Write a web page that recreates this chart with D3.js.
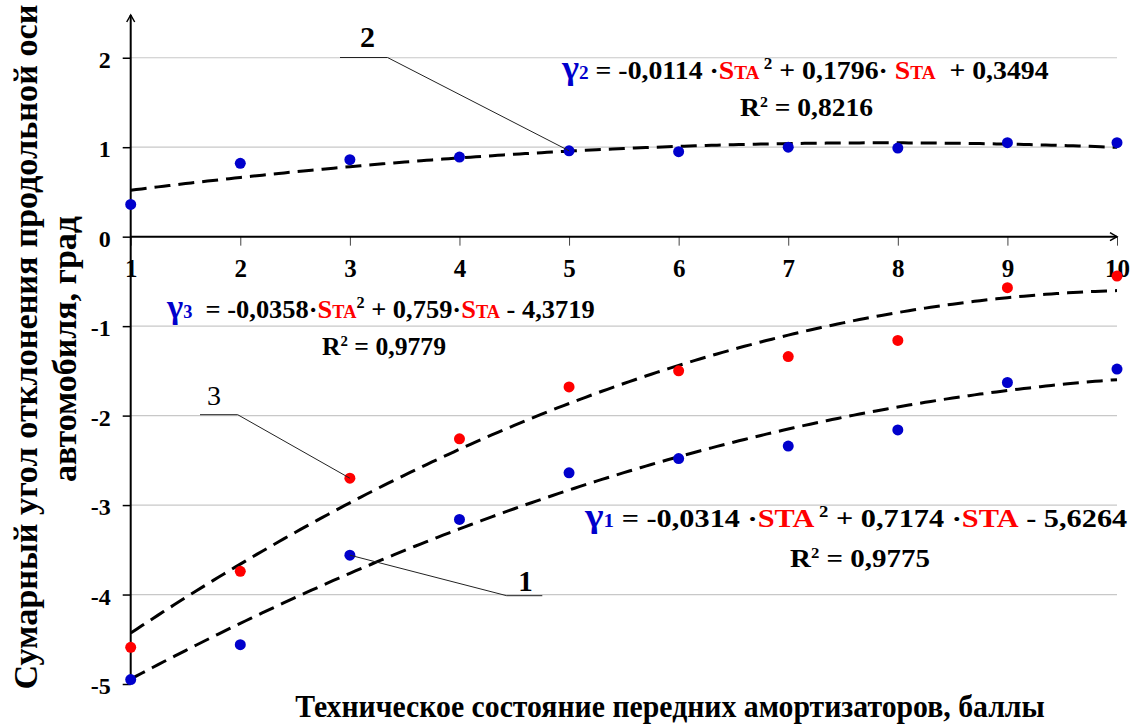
<!DOCTYPE html>
<html>
<head>
<meta charset="utf-8">
<script src="https://cdn.jsdelivr.net/npm/d3@7"></script>
<style>
  body { margin: 0; background: #fff; }
  svg { display: block; }
  text { font-family: "Liberation Serif", "Times New Roman", serif; white-space: pre; }
</style>
</head>
<body>
<svg id="chart" width="1137" height="726"></svg>
<script>
// Technical condition score of the front shock absorbers
const scores = [1, 2, 3, 4, 5, 6, 7, 8, 9, 10];
// Curve 1: measured total angle, grad
const series1 = [-4.95, -4.56, -3.56, -3.16, -2.64, -2.48, -2.34, -2.16, -1.63, -1.48];
// Curve 2
const series2 = [0.36, 0.82, 0.86, 0.89, 0.96, 0.95, 1.00, 0.99, 1.05, 1.05];
// Curve 3
const series3 = [-4.59, -3.74, -2.70, -2.26, -1.68, -1.50, -1.34, -1.16, -0.57, -0.44];

const yTicks = [-5, -4, -3, -2, -1, 0, 1, 2];
const xTicks = [1, 2, 3, 4, 5, 6, 7, 8, 9, 10];
const gridValues = [-4, -3, -2, -1, 1, 2];

const BLUE = "#0000cc";
const RED = "#ff0000";

const svg = d3.select("#chart");

const x = d3.scaleLinear().domain([1, 10]).range([130.7, 1117]);
const y = d3.scaleLinear().domain([-5, 2.5]).range([684, 13]);

// least-squares quadratic fit  y = a + b*x + c*x^2
function quadFit(xs, ys) {
  const S = [[0,0,0],[0,0,0],[0,0,0]], R = [0,0,0];
  xs.forEach((xv, i) => {
    const p = [1, xv, xv * xv];
    for (let r = 0; r < 3; r++) {
      R[r] += p[r] * ys[i];
      for (let c = 0; c < 3; c++) S[r][c] += p[r] * p[c];
    }
  });
  const M = S.map((row, i) => row.concat([R[i]]));
  for (let i = 0; i < 3; i++) {
    let piv = i;
    for (let k = i + 1; k < 3; k++) if (Math.abs(M[k][i]) > Math.abs(M[piv][i])) piv = k;
    [M[i], M[piv]] = [M[piv], M[i]];
    for (let k = i + 1; k < 3; k++) {
      const f = M[k][i] / M[i][i];
      for (let j = i; j < 4; j++) M[k][j] -= f * M[i][j];
    }
  }
  const sol = [0,0,0];
  for (let i = 2; i >= 0; i--) {
    let s = M[i][3];
    for (let j = i + 1; j < 3; j++) s -= M[i][j] * sol[j];
    sol[i] = s / M[i][i];
  }
  return t => sol[0] + sol[1] * t + sol[2] * t * t;
}

// gridlines
svg.append("g").selectAll("line").data(gridValues).join("line")
  .attr("x1", x(1)).attr("x2", x(10))
  .attr("y1", d => y(d)).attr("y2", d => y(d))
  .attr("stroke", "#c8c8c8").attr("stroke-width", 1.2);

// x axis (crosses at zero)
const xAxis = d3.axisBottom(x).tickValues(xTicks).tickFormat(d => String(d))
  .tickSize(9).tickSizeOuter(0).tickPadding(14);
const gx = svg.append("g").attr("transform", `translate(0,${y(0)})`).call(xAxis);
gx.select(".domain").remove();
gx.selectAll(".tick line").attr("stroke", "#444").attr("stroke-width", 1);
gx.selectAll(".tick text").attr("font-size", 25).attr("font-weight", "bold")
  .attr("font-family", "Liberation Serif").attr("fill", "#000");

// y axis
const yAxis = d3.axisLeft(y).tickValues(yTicks).tickFormat(d => String(d))
  .tickSize(8).tickSizeOuter(0).tickPadding(12);
const gy = svg.append("g").attr("transform", `translate(${x(1)},0)`).call(yAxis);
gy.select(".domain").remove();
gy.selectAll(".tick line").attr("stroke", "#000").attr("stroke-width", 1.5);
gy.selectAll(".tick text").attr("font-size", 24).attr("font-weight", "bold")
  .attr("font-family", "Liberation Serif").attr("fill", "#000").attr("dy", "0.4em");

// axis lines with arrow heads
const axisG = svg.append("g").attr("stroke", "#000").attr("fill", "none").attr("stroke-width", 2);
axisG.append("line").attr("x1", x(1)).attr("x2", x(1)).attr("y1", y(-5)).attr("y2", y(2.5) + 2);
axisG.append("path").attr("d", `M${x(1) - 4},${y(2.5) + 9} L${x(1)},${y(2.5) + 2} L${x(1) + 4},${y(2.5) + 9}`)
  .attr("stroke-width", 1.5);
axisG.append("line").attr("x1", x(1)).attr("x2", x(10)).attr("y1", y(0)).attr("y2", y(0));
axisG.append("path").attr("d", `M${x(10) - 7},${y(0) - 4} L${x(10)},${y(0)} L${x(10) - 7},${y(0) + 4}`)
  .attr("stroke-width", 1.5);

// trend curves
const fine = d3.range(1, 10.0001, 0.05);
const line = d3.line().x(d => x(d[0])).y(d => y(d[1]));
[series1, series2, series3].forEach(s => {
  const f = quadFit(scores, s);
  svg.append("path").datum(fine.map(t => [t, f(t)]))
    .attr("d", line).attr("fill", "none")
    .attr("stroke", "#000").attr("stroke-width", 3).attr("stroke-dasharray", "16,8");
});

// measured points
const pts = [
  { data: series2, color: BLUE },
  { data: series3, color: RED },
  { data: series1, color: BLUE }
];
pts.forEach(p => {
  svg.append("g").selectAll("circle").data(p.data).join("circle")
    .attr("cx", (d, i) => x(scores[i])).attr("cy", d => y(d))
    .attr("r", 5.5).attr("fill", p.color);
});

// curve number leaders
const leader = svg.append("g").attr("fill", "none").attr("stroke", "#222").attr("stroke-width", 1);
leader.append("path").attr("d", `M340,57.5 L387.5,57.5 L${x(5)},${y(series2[4])}`);
leader.append("path").attr("d", `M200,414.7 L237.7,414.7 L${x(3)},${y(series3[2])}`);
leader.append("path").attr("d", `M${x(3)},${y(series1[2])} L506.7,595.7 L542.3,595.7`);

svg.append("text").attr("x", 367.5).attr("y", 46.5).attr("text-anchor", "middle")
  .attr("font-size", 30).attr("font-weight", "bold").text("2");
svg.append("text").attr("x", 214).attr("y", 405).attr("text-anchor", "middle")
  .attr("font-size", 28).text("3");
svg.append("text").attr("x", 525.5).attr("y", 590.5).attr("text-anchor", "middle")
  .attr("font-size", 29).attr("font-weight", "bold").text("1");

// regression equations
function richText(parts, x0, x1, baseline, base) {
  const g = svg.append("g");
  const t = g.append("text").attr("font-weight", "bold").attr("font-size", base);
  let shift = 0;
  parts.forEach(p => {
    const sp = t.append("tspan").text(p.t).attr("fill", p.c || "#000")
      .attr("font-size", p.s || base);
    const target = p.dy || 0;
    if (target !== shift) { sp.attr("dy", target - shift); shift = target; }
  });
  const w = t.node().getBBox().width;
  g.attr("transform", `translate(${x0},${baseline}) scale(${(x1 - x0) / w},1)`);
}

richText([
  { t: "γ", c: BLUE, s: 34 }, { t: "2", c: BLUE, s: 18 },
  { t: " = -0,0114 ·" }, { t: "S", c: RED }, { t: "TA", c: RED, s: 18 },
  { t: " 2", s: 16, dy: -10 }, { t: " + 0,1796· " }, { t: "S", c: RED }, { t: "TA", c: RED, s: 18 },
  { t: "  + 0,3494" }
], 562, 1050, 79, 26);
richText([{ t: "R" }, { t: "2", s: 15, dy: -9 }, { t: " = 0,8216" }], 740, 873, 116, 26);

richText([
  { t: "γ", c: BLUE, s: 34 }, { t: "3", c: BLUE, s: 18 },
  { t: "  = -0,0358·" }, { t: "S", c: RED }, { t: "TA", c: RED, s: 18 },
  { t: "2", s: 16, dy: -10 }, { t: " + 0,759·" }, { t: "S", c: RED }, { t: "TA", c: RED, s: 18 },
  { t: " - 4,3719" }
], 167, 596, 318, 26);
richText([{ t: "R" }, { t: "2", s: 15, dy: -9 }, { t: " = 0,9779" }], 322, 446, 355, 26);

richText([
  { t: "γ", c: BLUE, s: 34 }, { t: "1", c: BLUE, s: 18 },
  { t: " = -0,0314 ·" }, { t: "STA", c: RED },
  { t: " 2", s: 16, dy: -10 }, { t: " + 0,7174 ·" }, { t: "STA", c: RED },
  { t: " - 5,6264" }
], 585, 1127, 527, 26);
richText([{ t: "R" }, { t: "2", s: 15, dy: -9 }, { t: " = 0,9775" }], 790, 930, 567, 26);

// axis titles, fitted to their lengths
function fittedTitle(str, cx, cy, len, size, rotate) {
  const g = svg.append("g");
  const t = g.append("text").attr("text-anchor", "middle").attr("font-weight", "bold")
    .attr("font-size", size).text(str);
  const w = t.node().getBBox().width;
  g.attr("transform", `translate(${cx},${cy}) rotate(${rotate}) scale(${len / w},1)`);
}
fittedTitle("Сумарный угол отклонения продольной оси", 37, 347, 685, 34, -90);
fittedTitle("автомобиля, град", 76, 349, 266, 34, -90);
fittedTitle("Техническое состояние передних амортизаторов, баллы", 670, 717, 750, 32, 0);
</script>
</body>
</html>
